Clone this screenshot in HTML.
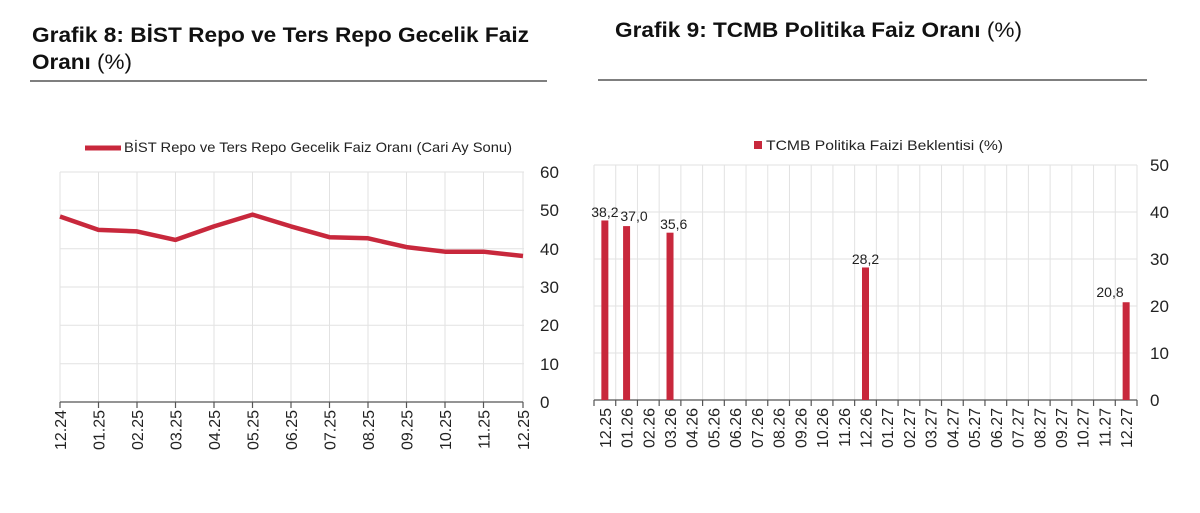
<!DOCTYPE html>
<html><head><meta charset="utf-8"><style>
body{margin:0;background:#fff;width:1200px;height:508px;overflow:hidden;font-family:"Liberation Sans",sans-serif}
</style></head><body>
<svg width="1200" height="508" xmlns="http://www.w3.org/2000/svg" font-family="Liberation Sans, sans-serif">
<text x="32" y="42" font-size="21" font-weight="bold" fill="#111" textLength="497" lengthAdjust="spacingAndGlyphs">Grafik 8:  BİST Repo ve Ters Repo Gecelik Faiz</text>
<text x="32" y="69" font-size="21" fill="#111" textLength="100" lengthAdjust="spacingAndGlyphs"><tspan font-weight="bold">Oranı</tspan> (%)</text>
<line x1="30" y1="81" x2="547" y2="81" stroke="#555" stroke-width="1.5"/>
<text x="615" y="37" font-size="21" fill="#111" textLength="407" lengthAdjust="spacingAndGlyphs"><tspan font-weight="bold">Grafik 9: TCMB Politika Faiz Oranı</tspan> (%)</text>
<line x1="598" y1="80" x2="1147" y2="80" stroke="#555" stroke-width="1.5"/>

<!-- left chart -->
<line x1="85" y1="148" x2="121" y2="148" stroke="#c8283c" stroke-width="5"/>
<text x="124" y="152" font-size="14" fill="#222" textLength="388" lengthAdjust="spacingAndGlyphs">BİST Repo ve Ters Repo Gecelik Faiz Oranı (Cari Ay Sonu)</text>
<g stroke="#e2e2e2" stroke-width="1">
<line x1="60" y1="172" x2="524" y2="172"/><line x1="60" y1="210.3" x2="524" y2="210.3"/><line x1="60" y1="248.7" x2="524" y2="248.7"/><line x1="60" y1="287" x2="524" y2="287"/><line x1="60" y1="325.3" x2="524" y2="325.3"/><line x1="60" y1="363.7" x2="524" y2="363.7"/>
<line x1="60" y1="172" x2="60" y2="402"/><line x1="98.5" y1="172" x2="98.5" y2="402"/><line x1="137" y1="172" x2="137" y2="402"/><line x1="175.5" y1="172" x2="175.5" y2="402"/><line x1="214" y1="172" x2="214" y2="402"/><line x1="252.5" y1="172" x2="252.5" y2="402"/><line x1="291" y1="172" x2="291" y2="402"/><line x1="329.5" y1="172" x2="329.5" y2="402"/><line x1="368" y1="172" x2="368" y2="402"/><line x1="406.5" y1="172" x2="406.5" y2="402"/><line x1="445" y1="172" x2="445" y2="402"/><line x1="483.5" y1="172" x2="483.5" y2="402"/><line x1="523" y1="172" x2="523" y2="402"/>
</g>
<g stroke="#555" stroke-width="1.2">
<line x1="60" y1="402" x2="523" y2="402"/>
<line x1="60" y1="402" x2="60" y2="408"/><line x1="98.5" y1="402" x2="98.5" y2="408"/><line x1="137" y1="402" x2="137" y2="408"/><line x1="175.5" y1="402" x2="175.5" y2="408"/><line x1="214" y1="402" x2="214" y2="408"/><line x1="252.5" y1="402" x2="252.5" y2="408"/><line x1="291" y1="402" x2="291" y2="408"/><line x1="329.5" y1="402" x2="329.5" y2="408"/><line x1="368" y1="402" x2="368" y2="408"/><line x1="406.5" y1="402" x2="406.5" y2="408"/><line x1="445" y1="402" x2="445" y2="408"/><line x1="483.5" y1="402" x2="483.5" y2="408"/><line x1="523" y1="402" x2="523" y2="408"/>
</g>
<polyline fill="none" stroke="#c8283c" stroke-width="4.5" stroke-linejoin="round" points="60,216.5 98.5,229.9 137,231.4 175.5,239.9 214,226.4 252.5,214.6 291,226.4 329.5,237.2 368,238.3 406.5,247.1 445,251.7 483.5,251.7 523,256"/>
<g font-size="17" fill="#222">
<text x="540" y="178">60</text><text x="540" y="216">50</text><text x="540" y="255">40</text><text x="540" y="293">30</text><text x="540" y="331">20</text><text x="540" y="370">10</text><text x="540" y="408">0</text>
</g>
<g font-size="16" fill="#222" text-anchor="end">
<text transform="translate(66,410) rotate(-90)">12.24</text>
<text transform="translate(104.5,410) rotate(-90)">01.25</text>
<text transform="translate(143,410) rotate(-90)">02.25</text>
<text transform="translate(181.5,410) rotate(-90)">03.25</text>
<text transform="translate(220,410) rotate(-90)">04.25</text>
<text transform="translate(258.5,410) rotate(-90)">05.25</text>
<text transform="translate(297,410) rotate(-90)">06.25</text>
<text transform="translate(335.5,410) rotate(-90)">07.25</text>
<text transform="translate(374,410) rotate(-90)">08.25</text>
<text transform="translate(412.5,410) rotate(-90)">09.25</text>
<text transform="translate(451,410) rotate(-90)">10.25</text>
<text transform="translate(489.5,410) rotate(-90)">11.25</text>
<text transform="translate(529,410) rotate(-90)">12.25</text>
</g>

<!-- right chart -->
<rect x="754" y="141" width="8" height="8" fill="#c8283c"/>
<text x="766" y="150" font-size="14" fill="#222" textLength="237" lengthAdjust="spacingAndGlyphs">TCMB Politika Faizi Beklentisi (%)</text>
<g stroke="#e2e2e2" stroke-width="1" id="rg"></g>
<g stroke="#555" stroke-width="1.2" id="rt"></g>
<g id="rb"></g>
<g font-size="17" fill="#222">
<text x="1150" y="171">50</text><text x="1150" y="218">40</text><text x="1150" y="265">30</text><text x="1150" y="312">20</text><text x="1150" y="359">10</text><text x="1150" y="406">0</text>
</g>
<g font-size="16" fill="#222" text-anchor="end" id="rx"></g>
<g font-size="14" fill="#222" text-anchor="middle">
<text x="604.9" y="217">38,2</text><text x="634" y="221">37,0</text><text x="673.7" y="229">35,6</text><text x="865.5" y="264">28,2</text><text x="1110" y="297">20,8</text>
</g>
</svg>
<script>
var ns="http://www.w3.org/2000/svg",x0=594,w=21.72,n=25;
function el(p,t,a,txt){var e=document.createElementNS(ns,t);for(var k in a)e.setAttribute(k,a[k]);if(txt)e.textContent=txt;document.getElementById(p).appendChild(e);}
for(var v=10;v<=50;v+=10){var y=400-v*4.7;el("rg","line",{x1:x0,y1:y,x2:x0+n*w,y2:y});}
for(var i=0;i<=n;i++){var x=x0+i*w;el("rg","line",{x1:x,y1:165,x2:x,y2:400});el("rt","line",{x1:x,y1:400,x2:x,y2:406});}
el("rt","line",{x1:x0,y1:400,x2:x0+n*w,y2:400});
var vals={0:38.2,1:37.0,3:35.6,12:28.2,24:20.8};
for(var k in vals){var c=x0+w/2+k*w,h=vals[k]*4.7;el("rb","rect",{x:c-3.5,y:400-h,width:7,height:h,fill:"#c8283c"});}
var labs=[];for(var i=0;i<n;i++){var m=(12+i-1)%12+1,yr=25+Math.floor((11+i)/12);labs.push((m<10?"0":"")+m+"."+yr);}
labs.forEach(function(l,i){var c=x0+w/2+i*w+6;el("rx","text",{transform:"translate("+c+",408) rotate(-90)"},l);});
</script>
</body></html>
